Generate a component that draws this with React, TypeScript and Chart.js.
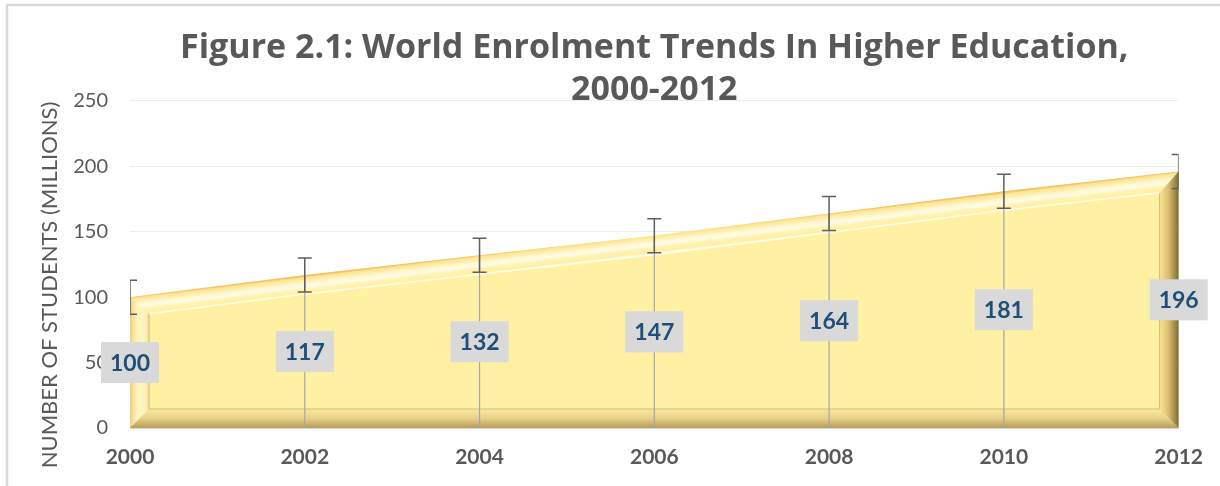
import React, { useEffect, useRef } from "react";
import { Chart, registerables } from "chart.js";

Chart.register(...registerables);

const years = ["2000", "2002", "2004", "2006", "2008", "2010", "2012"];
const students = [100, 117, 132, 147, 164, 181, 196];
const errorMargin = [13, 13, 13, 13, 13, 13, 13];
const yMin = 0;
const yMax = 250;
const yStep = 50;
const titleLines = ["Figure 2.1: World Enrolment Trends In Higher Education,", "2000-2012"];
const yAxisTitle = "NUMBER OF STUDENTS (MILLIONS)";

const FONT = "Lato, 'Open Sans', sans-serif";
const TITLE_FONT = "'Open Sans', Lato, sans-serif";

const decorPlugin = {
  id: "decor",
  beforeDraw(chart: any) {
    const ctx = chart.ctx;
    ctx.save();
    ctx.fillStyle = "#ffffff";
    ctx.fillRect(0, 0, chart.width, chart.height);
    ctx.strokeStyle = "#d9d9d9";
    ctx.lineWidth = 2.5;
    ctx.strokeRect(7, 5, chart.width + 40, chart.height + 40);
    ctx.restore();
  },
  afterDraw(chart: any) {
    const ctx = chart.ctx;
    ctx.save();
    ctx.translate(50, 285);
    ctx.rotate(-Math.PI / 2);
    ctx.font = `22px ${FONT}`;
    ctx.fillStyle = "#595959";
    ctx.textAlign = "center";
    ctx.textBaseline = "middle";
    ctx.fillText(yAxisTitle, 0, 0);
    ctx.restore();
  },
  afterDatasetsDraw(chart: any) {
    const ctx = chart.ctx;
    const meta = chart.getDatasetMeta(0);
    const yScale = chart.scales.y;
    const pts = meta.data.map((p: any) => ({ x: p.x, y: p.y }));
    const n = pts.length;
    const y0 = yScale.getPixelForValue(0);
    const xL = pts[0].x;
    const xR = pts[n - 1].x;
    const d = 19;

    const yTop = (x: number) => {
      for (let i = 0; i < n - 1; i++) {
        if (x >= pts[i].x && x <= pts[i + 1].x) {
          const t = (x - pts[i].x) / (pts[i + 1].x - pts[i].x);
          return pts[i].y + t * (pts[i + 1].y - pts[i].y);
        }
      }
      return pts[n - 1].y;
    };

    const A = { x: xL, y: y0 };
    const B = { x: xL, y: pts[0].y };
    const C = { x: xR, y: pts[n - 1].y };
    const D = { x: xR, y: y0 };
    const a = { x: xL + d, y: y0 - d };
    const b = { x: xL + d, y: yTop(xL + d) + d };
    const c = { x: xR - d, y: yTop(xR - d) + d };
    const dd = { x: xR - d, y: y0 - d };
    const innerTop = [b];
    for (let i = 0; i < n; i++) {
      if (pts[i].x > xL + d && pts[i].x < xR - d) innerTop.push({ x: pts[i].x, y: pts[i].y + d });
    }
    innerTop.push(c);

    const poly = (arr: any[], fill: any) => {
      ctx.beginPath();
      ctx.moveTo(arr[0].x, arr[0].y);
      for (let i = 1; i < arr.length; i++) ctx.lineTo(arr[i].x, arr[i].y);
      ctx.closePath();
      ctx.fillStyle = fill;
      ctx.fill();
    };

    ctx.save();
    // top bevel
    const dx = xR - xL;
    const dy = C.y - B.y;
    const len = Math.hypot(dx, dy);
    const nx = -dy / len;
    const ny = dx / len;
    const mx = (xL + xR) / 2;
    const my = (B.y + C.y) / 2;
    const perp = (d * dx) / len;
    const gTop = ctx.createLinearGradient(mx, my, mx + nx * perp, my + ny * perp);
    gTop.addColorStop(0, "#f0c46c");
    gTop.addColorStop(0.08, "#fde48c");
    gTop.addColorStop(0.4, "#fff8d4");
    gTop.addColorStop(0.55, "#fffbe6");
    gTop.addColorStop(0.7, "#fff3b4");
    gTop.addColorStop(0.92, "#fff0a2");
    gTop.addColorStop(1, "#fffae0");
    const topPoly = [B, ...pts.slice(1, n - 1), C, ...innerTop.slice().reverse()];
    poly(topPoly, gTop);

    // left bevel
    const gLeft = ctx.createLinearGradient(xL, 0, xL + d, 0);
    gLeft.addColorStop(0, "#ecd27e");
    gLeft.addColorStop(0.35, "#fff2b8");
    gLeft.addColorStop(0.75, "#fff4c4");
    gLeft.addColorStop(1, "#f7e39a");
    poly([A, B, b, a], gLeft);

    // bottom bevel
    const gBot = ctx.createLinearGradient(0, y0 - d, 0, y0);
    gBot.addColorStop(0, "#fbe9a0");
    gBot.addColorStop(0.5, "#e8d088");
    gBot.addColorStop(1, "#b89c58");
    poly([A, D, dd, a], gBot);

    // right bevel
    const gRight = ctx.createLinearGradient(xR - d, 0, xR, 0);
    gRight.addColorStop(0, "#f9e597");
    gRight.addColorStop(0.45, "#dcc070");
    gRight.addColorStop(1, "#7f6c38");
    poly([D, C, c, dd], gRight);

    // inner outline
    ctx.lineWidth = 1;
    ctx.strokeStyle = "#d2bb74";
    ctx.beginPath();
    ctx.moveTo(b.x, b.y);
    ctx.lineTo(a.x, a.y);
    ctx.lineTo(dd.x, dd.y);
    ctx.lineTo(c.x, c.y);
    ctx.stroke();
    ctx.strokeStyle = "#fffbea";
    ctx.lineWidth = 1.5;
    ctx.beginPath();
    ctx.moveTo(innerTop[0].x, innerTop[0].y);
    for (let i = 1; i < innerTop.length; i++) ctx.lineTo(innerTop[i].x, innerTop[i].y);
    ctx.stroke();

    // drop lines and error bars
    const area = chart.chartArea;
    ctx.beginPath();
    ctx.rect(area.left, area.top - 40, area.right - area.left, area.bottom - area.top + 40);
    ctx.clip();
    for (let i = 0; i < n; i++) {
      const x = pts[i].x;
      if (i > 0 && i < n - 1) {
        ctx.strokeStyle = "#a6a6a6";
        ctx.lineWidth = 1.2;
        ctx.beginPath();
        ctx.moveTo(x, pts[i].y);
        ctx.lineTo(x, y0);
        ctx.stroke();
      }
      const yHi = yScale.getPixelForValue(students[i] + errorMargin[i]);
      const yLo = yScale.getPixelForValue(students[i] - errorMargin[i]);
      ctx.strokeStyle = "#5f5f5f";
      ctx.lineWidth = 1.5;
      ctx.beginPath();
      ctx.moveTo(x, yHi);
      ctx.lineTo(x, yLo);
      ctx.moveTo(x - 7, yHi);
      ctx.lineTo(x + 7, yHi);
      ctx.moveTo(x - 7, yLo);
      ctx.lineTo(x + 7, yLo);
      ctx.stroke();
    }
    ctx.restore();

    // data labels
    ctx.save();
    ctx.font = `bold 23px ${FONT}`;
    ctx.textAlign = "center";
    ctx.textBaseline = "middle";
    for (let i = 0; i < n; i++) {
      const label = String(students[i]);
      const x = pts[i].x;
      const y = yScale.getPixelForValue(students[i] / 2);
      const w = ctx.measureText(label).width + 18;
      const h = 41;
      ctx.fillStyle = "#d9d9d9";
      ctx.fillRect(x - w / 2, y - h / 2, w, h);
      ctx.fillStyle = "#1f4e79";
      ctx.fillText(label, x, y + 1);
    }
    ctx.restore();
  },
};

export default function App() {
  const canvasRef = useRef<HTMLCanvasElement | null>(null);

  useEffect(() => {
    const canvas = canvasRef.current;
    if (!canvas) return;
    const chart = new Chart(canvas, {
      type: "line",
      data: {
        labels: years,
        datasets: [
          {
            label: "Students (millions)",
            data: students,
            fill: "origin",
            backgroundColor: "#fff1a3",
            borderWidth: 0,
            pointRadius: 0,
            tension: 0,
          },
        ],
      },
      options: {
        responsive: false,
        animation: false,
        layout: { padding: { left: 10, right: 40, top: 27, bottom: 0 } },
        plugins: {
          legend: { display: false },
          tooltip: { enabled: false },
          title: {
            display: true,
            fullSize: false,
            text: titleLines,
            color: "#595959",
            font: { family: TITLE_FONT, size: 34, weight: "bold", lineHeight: 1.235 },
            padding: { top: 0, bottom: -10 },
          },
        },
        scales: {
          x: {
            grid: { display: false, drawTicks: false },
            border: { display: true, color: "#d9d9d9" },
            ticks: {
              color: "#595959",
              font: { family: FONT, size: 21, weight: "bold" },
              padding: 17,
              maxRotation: 0,
              autoSkip: false,
            },
            afterFit: (s: any) => {
              s.height = 58;
            },
          },
          y: {
            min: yMin,
            max: yMax,
            grid: { color: "#ececec", drawTicks: false },
            border: { display: false },
            ticks: {
              stepSize: yStep,
              color: "#595959",
              font: { family: FONT, size: 20 },
              padding: 22,
            },
            afterFit: (s: any) => {
              s.width = 120;
            },
          },
        },
      },
      plugins: [decorPlugin],
    });
    return () => chart.destroy();
  }, []);

  return (
    <div style={{ position: "absolute", left: 0, top: 0, width: 1220, height: 486 }}>
      <canvas ref={canvasRef} width={1220} height={486} />
    </div>
  );
}
